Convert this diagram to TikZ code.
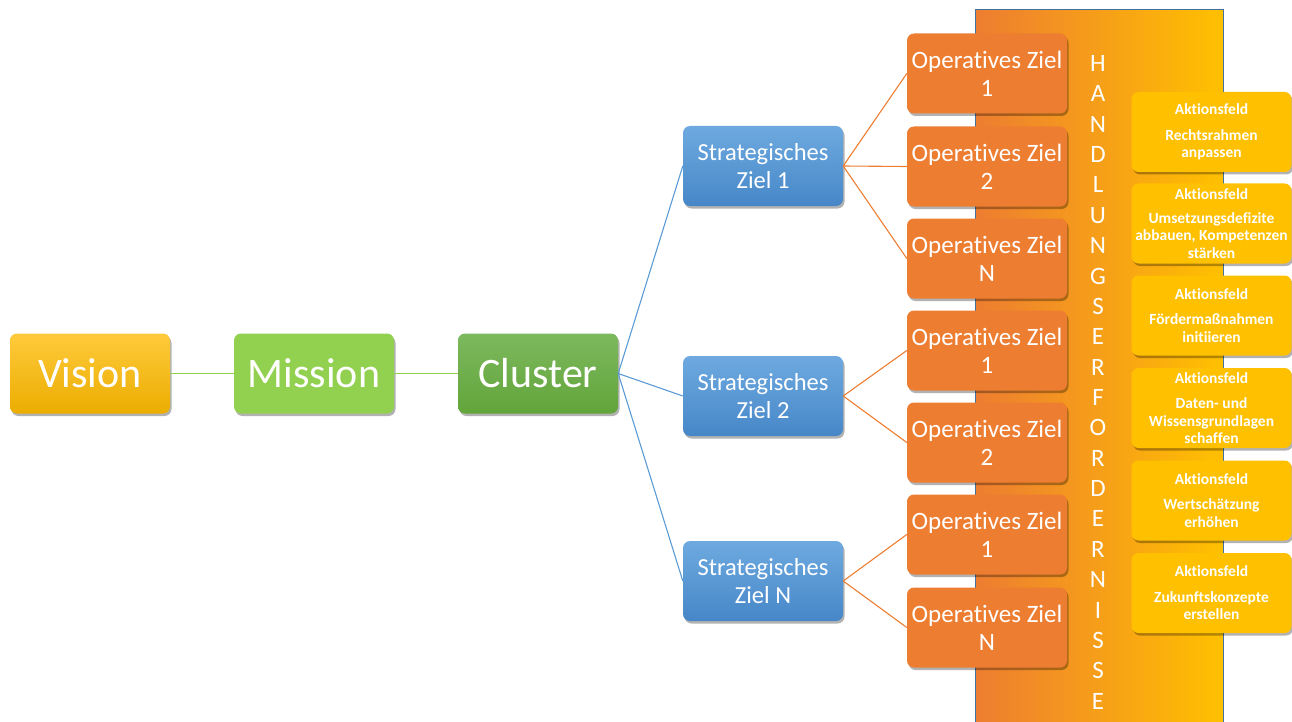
\documentclass[tikz,border=0pt]{standalone}
\usepackage{fontspec}
\setmainfont{Carlito}[Ligatures=NoCommon]
\usetikzlibrary{positioning,shadows}

\definecolor{gold}{HTML}{FFC000}
\definecolor{goldtop}{HTML}{FFCA3C}
\definecolor{golddark}{HTML}{EBAD00}
\definecolor{lgreen}{HTML}{92D050}
\definecolor{dgreen}{HTML}{62A53A}
\definecolor{dgreentop}{HTML}{7DB85E}
\definecolor{sblue}{HTML}{5B9BD5}
\definecolor{sbluetop}{HTML}{6EAAE0}
\definecolor{sbluebot}{HTML}{4787C8}
\definecolor{oorange}{HTML}{ED7D31}
\definecolor{bandedge}{HTML}{41719C}

\tikzset{
  box/.style={rounded corners=7pt, minimum width=160, minimum height=80, inner sep=0pt,
    text=white, align=center,
    drop shadow={shadow xshift=1.5pt, shadow yshift=-2.5pt, opacity=0.3, fill=black}},
  bigbox/.style={box, font=\fontsize{42}{46}\selectfont},
  stratbox/.style={box, top color=sbluetop, bottom color=sbluebot, font=\fontsize{24.5}{28}\selectfont},
  opbox/.style={box, fill=oorange, font=\fontsize{25}{28}\selectfont},
  aktbox/.style={box, fill=gold, font=\fontsize{15.5}{17.5}\selectfont\bfseries},
  letter/.style={text=white, inner sep=0pt, font=\fontsize{25}{25}\selectfont},
  gline/.style={draw=lgreen, line width=1.1pt},
  bline/.style={draw=sblue, line width=1.1pt},
  oline/.style={draw=oorange, line width=1.1pt}
}

\begin{document}
\begin{tikzpicture}[x=1pt, y=-1pt]
\useasboundingbox (0,0) rectangle (1292,722);

% Handlungserfordernisse (band)
\node[left color=oorange, right color=gold, draw=bandedge, line width=1pt,
  minimum width=248, minimum height=716, inner sep=0pt] (band) at (1099,368) {};
\foreach \ch [count=\i from 0] in {H,A,N,D,L,U,N,G,S,E,R,F,O,R,D,E,R,N,I,S,S,E}
  \node[letter] (hl\i) at (1098, 63.5+30.36*\i) {\ch};

% Vision, Mission, Cluster
\node[bigbox, top color=goldtop, bottom color=golddark] (vision) at (90,373.5) {Vision};
\node[bigbox, fill=lgreen] (mission) at (314,373.5) {Mission};
\node[bigbox, top color=dgreentop, bottom color=dgreen] (cluster) at (538,373.5) {Cluster};

% Strategische Ziele
\node[stratbox] (s1) at (763,166) {Strategisches\\Ziel 1};
\node[stratbox] (s2) at (763,396) {Strategisches\\Ziel 2};
\node[stratbox] (sn) at (763,581) {Strategisches\\Ziel N};

% Operative Ziele
\node[opbox] (o11) at (987,73.5) {Operatives Ziel\\1};
\node[opbox] (o12) at (987,166.5) {Operatives Ziel\\2};
\node[opbox] (o1n) at (987,258.5) {Operatives Ziel\\N};
\node[opbox] (o21) at (987,350.5) {Operatives Ziel\\1};
\node[opbox] (o22) at (987,442.5) {Operatives Ziel\\2};
\node[opbox] (on1) at (987,534.5) {Operatives Ziel\\1};
\node[opbox] (onn) at (987,627.5) {Operatives Ziel\\N};

% Aktionsfelder
\node[aktbox] (a1) at (1211.5,132) {Aktionsfeld\\[8pt]Rechtsrahmen\\anpassen};
\node[aktbox] (a2) at (1211.5,223.5) {Aktionsfeld\\[6pt]Umsetzungsdefizite\\abbauen, Kompetenzen\\stärken};
\node[aktbox] (a3) at (1211.5,315.5) {Aktionsfeld\\[8pt]Fördermaßnahmen\\initiieren};
\node[aktbox] (a4) at (1211.5,408) {Aktionsfeld\\[8pt]Daten- und\\Wissensgrundlagen\\schaffen};
\node[aktbox] (a5) at (1211.5,500.5) {Aktionsfeld\\[8pt]Wertschätzung\\erhöhen};
\node[aktbox] (a6) at (1211.5,593) {Aktionsfeld\\[8pt]Zukunftskonzepte\\erstellen};

% Verbindungen
\draw[gline] (vision) -- (mission);
\draw[gline] (mission) -- (cluster);
\draw[bline] (cluster.east) -- (s1.west);
\draw[bline] (cluster.east) -- (s2.west);
\draw[bline] (cluster.east) -- (sn.west);
\draw[oline] (s1.east) -- (o11.west);
\draw[oline] (s1.east) -- (o12.west);
\draw[oline] (s1.east) -- (o1n.west);
\draw[oline] (s2.east) -- (o21.west);
\draw[oline] (s2.east) -- (o22.west);
\draw[oline] (sn.east) -- (on1.west);
\draw[oline] (sn.east) -- (onn.west);
\end{tikzpicture}
\end{document}
